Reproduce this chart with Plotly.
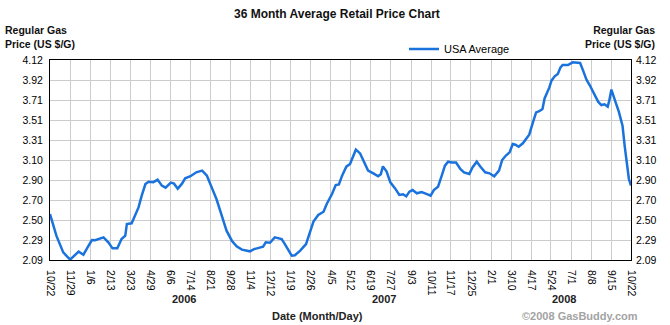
import plotly.graph_objects as go
import pandas as pd

# ---- data ----
start_date = "2005-10-22"
day_offsets = [0, 12, 25, 38, 54, 63, 69, 79, 85, 101, 110, 118, 127, 135, 142, 145, 154, 161, 167, 173,
               180, 186, 195, 203, 211, 218, 228, 234, 241, 249, 255, 265, 276, 287, 296, 305, 314, 324,
               333, 343, 352, 362, 371, 377, 385, 396, 402, 407, 415, 424, 437, 443, 450, 456, 462, 472,
               483, 491, 497, 506, 516, 522, 532, 539, 545, 551, 559, 566, 571, 577, 585, 592, 600, 610,
               619, 624, 628, 635, 642, 651, 659, 666, 672, 678, 684, 692, 701, 710, 718, 724, 732, 739,
               745, 751, 758, 766, 774, 781, 791, 797, 805, 812, 821, 829, 838, 847, 853, 860, 867, 873,
               878, 884, 892, 898, 904, 911, 917, 923, 929, 933, 937, 942, 946, 952, 958, 963, 967, 977,
               986, 996, 1000, 1005, 1012, 1018, 1025, 1034, 1040, 1046, 1052, 1055, 1059, 1063, 1067,
               1073, 1080, 1084, 1089, 1092, 1096]
usa_average = [2.557, 2.337, 2.167, 2.094, 2.175, 2.144, 2.200, 2.293, 2.290, 2.320, 2.270, 2.208, 2.208,
               2.303, 2.337, 2.455, 2.462, 2.540, 2.624, 2.743, 2.861, 2.885, 2.880, 2.906, 2.845, 2.824,
               2.875, 2.865, 2.814, 2.865, 2.919, 2.940, 2.980, 2.997, 2.946, 2.827, 2.709, 2.540, 2.388,
               2.286, 2.228, 2.195, 2.185, 2.178, 2.200, 2.218, 2.225, 2.269, 2.265, 2.320, 2.303, 2.252,
               2.185, 2.134, 2.138, 2.185, 2.252, 2.370, 2.480, 2.547, 2.580, 2.658, 2.760, 2.851, 2.857,
               2.946, 3.037, 3.064, 3.132, 3.210, 3.172, 3.088, 2.997, 2.969, 2.939, 2.960, 3.040, 2.987,
               2.878, 2.817, 2.750, 2.757, 2.736, 2.784, 2.800, 2.767, 2.780, 2.762, 2.743, 2.800, 2.834,
               2.946, 3.047, 3.088, 3.080, 3.080, 3.014, 2.980, 2.963, 3.030, 3.088, 3.037, 2.980, 2.970,
               2.939, 2.997, 3.105, 3.150, 3.183, 3.267, 3.260, 3.240, 3.274, 3.318, 3.362, 3.487, 3.588,
               3.600, 3.623, 3.730, 3.775, 3.842, 3.910, 3.954, 3.978, 4.045, 4.069, 4.069, 4.096, 4.096,
               4.090, 4.022, 3.920, 3.866, 3.791, 3.697, 3.663, 3.670, 3.646, 3.707, 3.820, 3.765, 3.690,
               3.596, 3.453, 3.250, 3.048, 2.912, 2.845]

tick_dates = ["2005-10-22", "2005-11-29", "2006-01-06", "2006-02-13", "2006-03-23", "2006-04-29",
              "2006-06-06", "2006-07-14", "2006-08-21", "2006-09-28", "2006-11-04", "2006-12-12",
              "2007-01-19", "2007-02-26", "2007-04-05", "2007-05-12", "2007-06-19", "2007-07-27",
              "2007-09-03", "2007-10-11", "2007-11-17", "2007-12-25", "2008-02-01", "2008-03-10",
              "2008-04-17", "2008-05-24", "2008-07-01", "2008-08-08", "2008-09-15", "2008-10-22"]
tick_labels = ["10/22", "11/29", "1/6", "2/13", "3/23", "4/29", "6/6", "7/14", "8/21", "9/28", "11/4",
               "12/12", "1/19", "2/26", "4/5", "5/12", "6/19", "7/27", "9/3", "10/11", "11/17", "12/25",
               "2/1", "3/10", "4/17", "5/24", "7/1", "8/8", "9/15", "10/22"]
y_min, y_max = 2.09, 4.12
y_tick_labels = ["2.09", "2.29", "2.50", "2.70", "2.90", "3.10", "3.31", "3.51", "3.71", "3.92", "4.12"]
years = ["2006", "2007", "2008"]

# ---- figure ----
dates = pd.Timestamp(start_date) + pd.to_timedelta(day_offsets, unit="D")
n = len(y_tick_labels)
y_tick_vals = [y_min + (y_max - y_min) * i / (n - 1) for i in range(n)]

W, H = 670, 325
L, R, T, B = 50, 39, 60, 65
pw, ph = W - L - R, H - T - B

def px(x):
    return (x - L) / pw

def py(y):
    return (H - B - y) / ph

FONT = "Arial, Liberation Sans, sans-serif"

fig = go.Figure()
fig.add_trace(go.Scatter(x=dates, y=usa_average, mode="lines", name="USA Average",
                         line=dict(color="#1a73dd", width=2.5)))
fig.add_trace(go.Scatter(x=[dates[0]], y=[usa_average[0]], yaxis="y2", mode="lines",
                         showlegend=False, hoverinfo="skip", line=dict(width=0), opacity=0))

fig.update_layout(
    width=W, height=H,
    margin=dict(l=L, r=R, t=T, b=B),
    paper_bgcolor="white", plot_bgcolor="white",
    font=dict(family=FONT, size=11, color="black"),
    showlegend=True,
    legend=dict(x=px(404), y=py(49), xanchor="left", yanchor="middle", orientation="h",
                font=dict(family=FONT, size=11, color="black"), bgcolor="rgba(0,0,0,0)",
                itemwidth=30),
    xaxis=dict(type="date", range=[tick_dates[0], tick_dates[-1]], tickmode="array",
               tickvals=tick_dates, ticktext=tick_labels, tickangle=90,
               tickfont=dict(family=FONT, size=10.5, color="black"),
               showgrid=True, gridcolor="#cccccc", gridwidth=1,
               showline=True, linecolor="black", linewidth=1, mirror=True,
               ticks="", ticklabelstandoff=7, zeroline=False, fixedrange=True),
    yaxis=dict(range=[y_min, y_max], tickmode="array", tickvals=y_tick_vals, ticktext=y_tick_labels,
               tickfont=dict(family=FONT, size=10.5, color="black"),
               showgrid=True, gridcolor="#cccccc", gridwidth=1,
               showline=True, linecolor="black", linewidth=1, mirror=True,
               ticks="", ticklabelstandoff=4, zeroline=False),
    yaxis2=dict(range=[y_min, y_max], tickmode="array", tickvals=y_tick_vals, ticktext=y_tick_labels,
                tickfont=dict(family=FONT, size=10.5, color="black"),
                overlaying="y", side="right", showgrid=False, showline=False,
                ticks="", ticklabelstandoff=4, zeroline=False),
)

ann = []
ann.append(dict(text="<b>36 Month Average Retail Price Chart</b>", x=px(337), y=py(14),
                font=dict(family=FONT, size=12, color="#111111")))
ann.append(dict(text="<b>Regular Gas<br>Price (US $/G)</b>", x=px(3), y=py(37), xanchor="left",
                align="left", font=dict(family=FONT, size=10.5, color="#111111")))
ann.append(dict(text="<b>Regular Gas<br>Price (US $/G)</b>", x=px(657), y=py(37), xanchor="right",
                align="right", font=dict(family=FONT, size=10.5, color="#111111")))
for yr, xp in zip(years, [184, 384, 564]):
    ann.append(dict(text=f"<b>{yr}</b>", x=px(xp), y=py(299),
                    font=dict(family=FONT, size=11, color="#222222")))
ann.append(dict(text="<b>Date (Month/Day)</b>", x=px(317), y=py(316),
                font=dict(family=FONT, size=11, color="#222222")))
ann.append(dict(text="<b>©2008 GasBuddy.com</b>", x=px(640), y=py(316), xanchor="right",
                font=dict(family=FONT, size=11, color="#a3a3a3")))
for a in ann:
    a.setdefault("xanchor", "center")
    a.update(xref="paper", yref="paper", yanchor="middle", showarrow=False)
fig.update_layout(annotations=ann)

fig.write_html("out.html")
